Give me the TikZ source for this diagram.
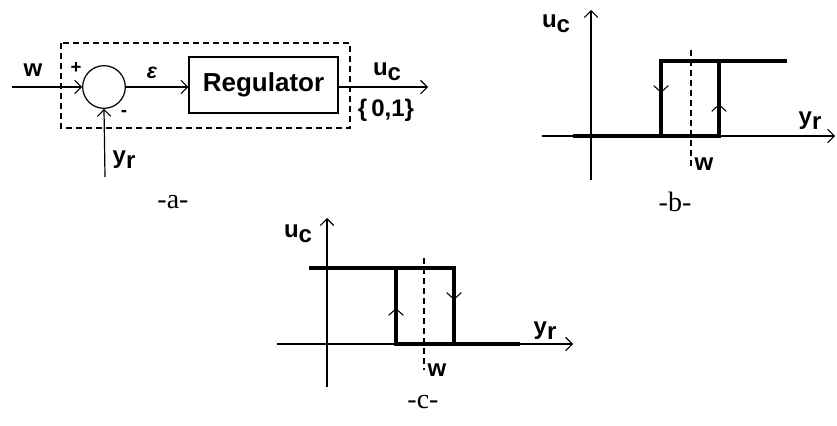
\documentclass[tikz,border=0pt]{standalone}
\usepackage{fontspec}
\setmainfont{Liberation Serif}
\newfontfamily\lblfont{Liberation Sans}
\usetikzlibrary{arrows.meta,decorations.markings}
\begin{document}
\begin{tikzpicture}[x=0.75pt,y=-0.75pt,
  lab/.style={font=\lblfont\bfseries\fontsize{18}{20}\selectfont, inner sep=0pt},
  smalllab/.style={font=\lblfont\bfseries\fontsize{14}{16}\selectfont, inner sep=0pt},
  captxt/.style={font=\fontsize{21}{24}\selectfont, inner sep=0pt},
  sig/.style={-{Straight Barb[length=5pt,width=10pt,line width=0.8pt]}, line width=0.9pt},
  axis/.style={-{Straight Barb[length=5pt,width=10pt,line width=0.8pt]}, line width=0.9pt},
  curve/.style={line width=2.4pt},
  guide/.style={line width=1.1pt, dash pattern=on 4.5pt off 3pt},
  midtip/.style={-{Straight Barb[length=5pt,width=11pt,line width=0.8pt]}, line width=0.8pt},
  blk/.style={draw, line width=0.9pt, inner sep=0pt}
]
\useasboundingbox (0,0) rectangle (837,425);

% ---------- part a ----------
\draw[guide, line width=0.9pt] (61,43) rectangle (350,128);
\node[blk, circle, minimum size=32pt] (sum) at (104,87) {};
\node[blk, minimum width=111.75pt, minimum height=42pt, lab, font=\lblfont\bfseries\fontsize{19.5}{22}\selectfont] (reg) at (263.5,85) {Regulator};
\coordinate (win) at (12,87);
\coordinate (out) at (428,87);
\coordinate (yrin) at (105,177);
\draw[sig] (win) -- (sum.west);
\draw[sig] (sum.east) -- (reg.west |- sum.east);
\draw[sig] (yrin) -- (sum.south);
\draw[sig] (reg.east |- out) -- (out);
\node[lab] (lw) at (33,70) {w};
\node[smalllab] (lplus) at (76,68) {+};
\node[lab, font=\lblfont\bfseries\itshape\fontsize{16}{18}\selectfont] (leps) at (152,73) {ε};
\node[smalllab] (lminus) at (124,114) {-};
\node[lab] (luc) at (387,72) {u\raisebox{-0.4ex}{c}};
\node[lab] (l01) at (386,110) {\{\,0,1\}};
\node[lab] (lyr) at (124,160) {y\raisebox{-0.4ex}{r}};
\node[captxt] (capa) at (173,202) {-a-};

% ---------- part b ----------
\coordinate (bxa) at (542,136);
\coordinate (bxb) at (835,136);
\coordinate (bya) at (591,180);
\coordinate (byb) at (591,10);
\draw[axis] (bxa) -- (bxb);
\draw[axis] (bya) -- (byb);
\draw[guide] (691,50) -- (691,170);
\draw[curve, line join=miter] (573,136) -- (719,136) -- (719,61) -- (787,61);
\draw[curve, line join=miter] (661,136) -- (661,61) -- (719,61);
\draw[midtip] (661,82) -- (661,93);
\draw[midtip] (719,115) -- (719,104);
\node[lab] (buc) at (556,24) {u\raisebox{-0.4ex}{c}};
\node[lab] (byr) at (810,121) {y\raisebox{-0.4ex}{r}};
\node[lab] (bw) at (704,164) {w};
\node[captxt] (capb) at (675,202) {-b-};

% ---------- part c ----------
\coordinate (cxa) at (277,344);
\coordinate (cxb) at (573,344);
\coordinate (cya) at (327,387);
\coordinate (cyb) at (327,218);
\draw[axis] (cxa) -- (cxb);
\draw[axis] (cya) -- (cyb);
\draw[guide] (424,258) -- (424,370);
\draw[curve, line join=miter] (309,268) -- (454,268) -- (454,344) -- (520,344);
\draw[curve, line join=miter] (396,268) -- (396,344) -- (454,344);
\draw[midtip] (396,319) -- (396,308);
\draw[midtip] (454,289) -- (454,300);
\node[lab] (cuc) at (298,234) {u\raisebox{-0.4ex}{c}};
\node[lab] (cyr) at (545,331) {y\raisebox{-0.4ex}{r}};
\node[lab] (cw) at (437,370) {w};
\node[captxt] (capc) at (423,402) {-c-};
\end{tikzpicture}
\end{document}
